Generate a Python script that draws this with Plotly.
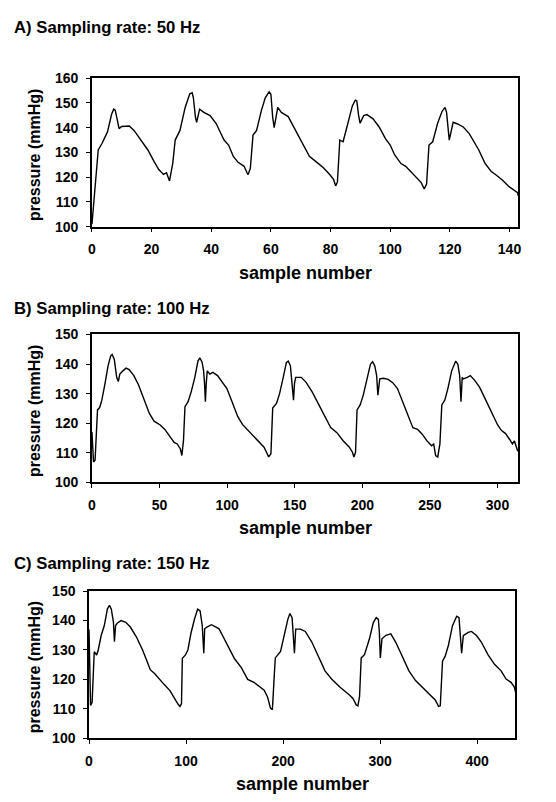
import plotly.graph_objects as go

# The page body has an 8 px margin, so the figure is drawn 8 px in from the
# window corner; the figure is sized so that it exactly fills the 556x802 window.
PAGE_W, PAGE_H = 556, 802
OFF = 8
W, H = PAGE_W - OFF, PAGE_H - OFF

# ---------------- data ----------------
a_sample = [0, 1.0, 2.1, 3.4, 5.2, 6.6, 7.3, 7.8, 9.1, 9.9, 12.5, 14.1, 16.1, 18.75, 20.8, 22.4, 24, 25, 26,
            27.1, 27.9, 29.5, 31.25, 32.8, 33.6, 34, 34.7, 35.1, 36.1, 37.5, 39.6, 41.7, 42.7, 43.75, 44.3,
            45.8, 47.4, 49, 51, 52.3, 53.1, 54, 55.2, 56.8, 58.1, 59.4, 60, 60.6, 61.1, 62.3, 63.5, 65.8,
            67.7, 70.3, 72.9, 75, 77.6, 79.7, 81, 81.7, 82.3, 83.1, 84.2, 85.9, 87.3, 88.3, 88.8, 89.4, 89.9,
            91.1, 92.2, 94.25, 96.3, 98.4, 100, 101.5, 103.6, 105.2, 106.75, 108.8, 110.4, 111.4, 112.2, 113,
            114.25, 115.9, 117.4, 118.4, 118.9, 119.8, 121.1, 122.4, 124.5, 126.5, 128.1, 129.7, 131.75,
            133.8, 135.4, 137.5, 139.6, 141.7, 142.7, 143]
a_pressure = [101, 116, 131, 133.7, 138.3, 145.5, 147.5, 147.1, 139.6, 140.5, 140.7, 138.9, 135.6, 131, 126.4,
              123.1, 121.1, 121.8, 118.5, 125.7, 135, 138.9, 148.2, 153.7, 154.1, 152.1, 144.2, 142.2, 147.5,
              146.2, 144.9, 141.6, 139, 136, 135, 133, 128.4, 126, 124.4, 121, 123.5, 137, 138.9, 146.9, 152.1,
              154.5, 153.5, 144.2, 140, 148.2, 146.2, 144.5, 140.3, 134.3, 128.4, 126.4, 123.8, 121.1, 119.1,
              116.5, 118, 135, 134.3, 142.2, 148.8, 151.1, 150.8, 145, 141.8, 144.9, 145.3, 143.6, 140.3, 135.6,
              133, 129, 125.5, 124.4, 122.4, 119.8, 117.8, 115.2, 117.2, 133, 134.3, 141.8, 146.6, 148.2,
              146.2, 135, 142.2, 141.6, 140.3, 137.6, 134.3, 131, 125.7, 122.4, 121, 119, 116.4, 114.7, 113.7,
              112.4]

b_sample = [0, 1.15, 2.3, 4.1, 5.7, 7.3, 9.6, 11.9, 13.8, 14.9, 16.5, 18.3, 19.5, 20.6, 22.9, 25.2, 27.5, 31,
            34.4, 39, 42.4, 45.9, 50.5, 53.9, 57.3, 60.8, 63.1, 65.4, 66.5, 67.7, 68.8, 71.1, 73.4, 76.1, 78.4,
            79.8, 81.4, 82.6, 83.3, 83.9, 84.6, 85.3, 87.2, 89.4, 92.9, 96.3, 99.8, 103.2, 107.8, 111.3, 115.8,
            119.3, 122.7, 127.3, 129.6, 130.7, 132.4, 133.7, 136.5, 138.8, 141.5, 143.8, 145.2, 146.8, 147.9,
            149.1, 149.8, 150.7, 154.8, 158.3, 162.9, 167.4, 172, 176.6, 181.2, 185.8, 190.4, 192.7, 193.8,
            195, 196.1, 198.4, 200.7, 203.7, 206, 207.6, 209.2, 210.6, 211.5, 212.9, 215.6, 219.1, 222.5, 226,
            229.4, 232.8, 237.4, 240.9, 244.3, 247.7, 251.2, 252.8, 254.2, 255.8, 257.4, 258.8, 261, 263.3,
            266.1, 269.1, 270.7, 272, 273, 273.9, 274.8, 277.6, 279.9, 283.3, 286.7, 290.2, 293.6, 295.9, 298,
            300, 303, 306, 309, 311, 312.5, 314, 315]
b_pressure = [117, 106.9, 107.5, 124.5, 125.3, 127.8, 133.3, 139.4, 142.7, 143.2, 141.6, 135.5, 134.1, 136.6,
              137.7, 138.6, 138.1, 136.1, 133, 127.8, 123.4, 120.7, 119.4, 117.9, 115.7, 113.5, 113, 111.3,
              109.1, 114.1, 125.6, 127.3, 130.6, 135.5, 141, 142.1, 140.7, 137.7, 133.3, 127.3, 133.9, 137.7,
              136.6, 137.2, 136.1, 133.9, 131.7, 127.8, 122.3, 119.6, 117.4, 115.7, 114.1, 111.9, 109.7, 108.6,
              109.7, 125.1, 126.7, 130, 135.5, 140.5, 141, 139.4, 133.9, 127.8, 133.3, 135.5, 135.5, 133.9,
              130.6, 126.7, 122.3, 118.5, 116.8, 114.1, 111.9, 110.2, 108.6, 110.2, 124.5, 126.2, 129.5, 135.5,
              139.9, 140.8, 139.4, 136.1, 129.5, 135, 135.2, 134.8, 133.7, 131.7, 127.8, 124, 118.5, 117.9,
              116.3, 114.1, 112.4, 113, 109.1, 108.6, 113, 126.2, 127.8, 131.7, 137.7, 141, 139.9, 136.1, 127.3,
              135.5, 135, 135.5, 136.1, 134.4, 132.2, 128.9, 125.6, 122.9, 121, 119.5, 117.5, 116.5, 114.5, 113,
              114, 112, 110.5]

c_sample = [0, 1.6, 3.2, 4.1, 5.4, 7.9, 9.5, 12.6, 15.8, 18.9, 21.1, 23, 25.2, 26.2, 27.4, 29.3, 33.1, 37.9,
            42.6, 48.9, 55.2, 59.9, 63.1, 67.8, 72.6, 77.3, 83.6, 88.3, 91.5, 93.7, 95.3, 96.2, 99.4, 101.9,
            105, 108.8, 112, 114.5, 116.7, 118.3, 119.2, 121.5, 126.2, 130.9, 134, 150, 157, 163.5, 170, 180.5,
            184, 187, 189, 191, 192, 197.4, 200.8, 204.9, 207, 209.3, 211.7, 213, 217.8, 222.9, 229.6, 236.4,
            243.2, 250, 258.5, 268.7, 272, 275.4, 277.1, 278.8, 280.5, 283.9, 289, 293, 296, 298.2, 299.2,
            300.2, 301.9, 306, 311, 316, 323, 329.7, 336.5, 343.3, 350, 356.8, 360.2, 362, 364.3, 367, 370.4,
            374.5, 378.9, 381.3, 384, 385.7, 390.8, 394.2, 399.3, 404.3, 411.1, 417.9, 424.7, 429.8, 434.9,
            438.3, 439.5]
c_pressure = [137, 111.1, 112.2, 118.3, 129.4, 128.3, 130, 135, 138.3, 143.9, 145.2, 143.9, 139.4, 132.8,
              138.3, 139.2, 140, 139.4, 137.8, 134.4, 130, 126.1, 123.3, 121.9, 120, 118.3, 116.1, 113.3, 111.7,
              110.8, 111.7, 127.2, 128.3, 130, 135.6, 140.6, 143.9, 143.3, 138.3, 128.9, 137.2, 137.8, 138.6,
              137.8, 137.2, 127, 124, 120, 119, 116.3, 114, 110.2, 109.7, 121.8, 127.3, 129.5, 135, 140.4,
              142.4, 141, 128.9, 137.1, 137.1, 136.3, 132.7, 127.8, 122.9, 120.1, 117.4, 114.6, 113.5, 111.3,
              111, 114.1, 127.3, 128.4, 133.8, 139.3, 141, 140.4, 136, 127.3, 133.8, 135, 135.5, 132.7, 127.8,
              122.9, 119.6, 117.4, 115.2, 113, 110.8, 111, 126.2, 127.8, 131.6, 138.2, 141.5, 141, 128.9, 134.9,
              136, 136.3, 134.9, 132.7, 128.4, 125.1, 122.9, 120.1, 119, 117.4, 115.7]

panel_titles = ["A) Sampling rate: 50 Hz", "B) Sampling rate: 100 Hz", "C) Sampling rate: 150 Hz"]
x_label = "sample number"
y_label = "pressure (mmHg)"

# ---------------- layout helpers (page pixel -> paper fraction) ----------------
def px_x(p):
    return (p - OFF) / W

def px_y(p):
    return 1 - (p - OFF) / H

FONT = "Liberation Sans, Arial, sans-serif"

panels = [
    dict(x=a_sample, y=a_pressure, xr=[0, 143], xd=20, yr=[100, 160], box=(89, 521, 71.5, 223), ty=20, xly=270),
    dict(x=b_sample, y=b_pressure, xr=[0, 315.5], xd=50, yr=[100, 150], box=(89, 521, 333, 484), ty=307, xly=531),
    dict(x=c_sample, y=c_pressure, xr=[0, 439.5], xd=100, yr=[100, 150], box=(86, 518, 595, 745), ty=567, xly=792),
]

fig = go.Figure()
annotations = []
for i, p in enumerate(panels, start=1):
    xa = "x" if i == 1 else f"x{i}"
    ya = "y" if i == 1 else f"y{i}"
    fig.add_trace(go.Scatter(x=p["x"], y=p["y"], mode="lines",
                             line=dict(color="black", width=1.4),
                             xaxis=xa, yaxis=ya, showlegend=False, hoverinfo="skip"))
    l, r, t, b = p["box"]
    axcommon = dict(showline=True, linecolor="black", linewidth=1.5, mirror=True,
                    ticks="outside", ticklen=4, tickwidth=1, tickcolor="black",
                    showgrid=False, zeroline=False,
                    tickfont=dict(family=FONT, size=14, color="black", weight="bold"))
    fig.layout[f"xaxis{'' if i == 1 else i}"] = dict(
        domain=[px_x(l), px_x(r)], range=p["xr"], dtick=p["xd"], tick0=0,
        anchor=ya, ticklabelstandoff=5, **axcommon)
    fig.layout[f"yaxis{'' if i == 1 else i}"] = dict(
        domain=[px_y(b), px_y(t)], range=p["yr"], dtick=10, tick0=100,
        anchor=xa, ticklabelstandoff=5, **axcommon)
    annotations.append(dict(text=panel_titles[i - 1], x=px_x(8), y=px_y(p["ty"]),
                            xref="paper", yref="paper", xanchor="left", yanchor="middle",
                            showarrow=False,
                            font=dict(family=FONT, size=16.7, color="black", weight="bold")))
    annotations.append(dict(text=x_label, x=px_x((l + r) / 2), y=px_y(p["xly"]),
                            xref="paper", yref="paper", xanchor="center", yanchor="middle",
                            showarrow=False,
                            font=dict(family=FONT, size=18, color="black", weight="bold")))
    annotations.append(dict(text=y_label, x=px_x(31), y=px_y((t + b) / 2 + 3),
                            xref="paper", yref="paper", xanchor="center", yanchor="middle",
                            textangle=-90, showarrow=False,
                            font=dict(family=FONT, size=16, color="black", weight="bold")))

fig.update_layout(width=W, height=H, margin=dict(l=0, r=0, t=0, b=0),
                  paper_bgcolor="white", plot_bgcolor="white",
                  annotations=annotations)

fig.write_html("out.html")
